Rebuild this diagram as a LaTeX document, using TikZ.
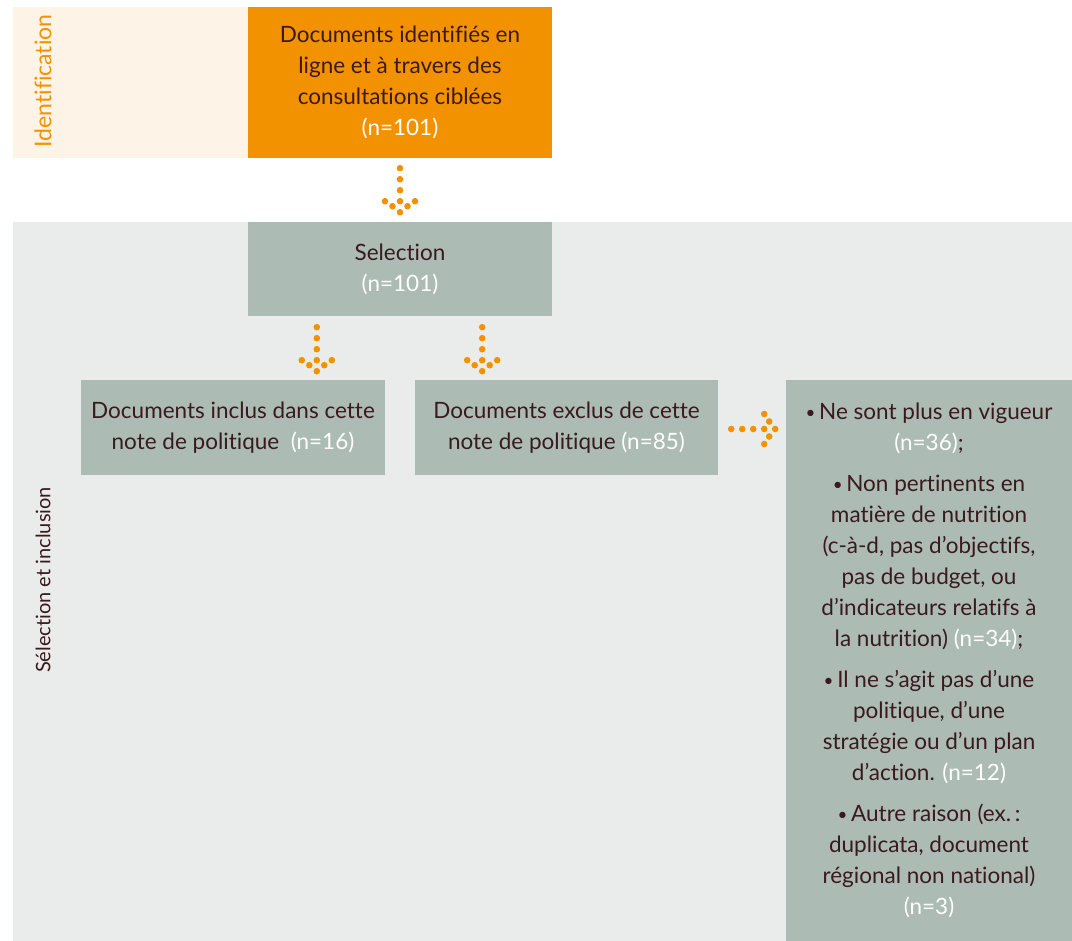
\documentclass[tikz,border=0pt]{standalone}
\usepackage{fontspec}
\setmainfont{Lato}[RawFeature={-liga;-dlig;-clig}]
\definecolor{orangeA}{HTML}{F39200}
\definecolor{creamA}{HTML}{FEF3E7}
\definecolor{bandA}{HTML}{EAECEB}
\definecolor{boxA}{HTML}{ACBCB4}
\definecolor{txtA}{HTML}{3A1A1E}
\tikzset{
  stepbox/.style={fill=boxA, inner sep=0pt, align=center, text=txtA, font=\fontsize{22.5}{31}\selectfont},
  pics/dotarrow/.style={code={
    \foreach \p in {(0pt,0pt),(0pt,-11pt),(0pt,-22pt),(0pt,-33pt),(-15pt,-33pt),(15pt,-33pt),(-7.5pt,-38pt),(7.5pt,-38pt),(0pt,-44pt)}
      \fill[orangeA] \p circle (3.3pt);
  }}
}
\newcommand{\nn}[1]{\textcolor{white}{#1}}
\newcommand{\bul}{\raisebox{1.5pt}{\fontsize{17}{17}\selectfont•}\,}
\begin{document}
\begin{tikzpicture}[x=1pt,y=-1pt]
\useasboundingbox (0,0) rectangle (1072,941);
% bands
\fill[creamA] (13,7) rectangle (248,158);
\fill[bandA] (13,222) rectangle (1072,941);
\node[rotate=90, text=orangeA, font=\fontsize{23}{26}\selectfont] (lblid) at (43,81) {Identification};
\node[rotate=90, text=txtA, font=\fontsize{20}{24}\selectfont] (lblsel) at (43,580) {Sélection et inclusion};
% boxes
\node[stepbox, fill=orangeA, minimum width=304, minimum height=151] (ident) at (400,82.5)
  {Documents identifiés en\\ligne et à travers des\\consultations ciblées\\\nn{(n=101)}};
\node[stepbox, minimum width=304, minimum height=94] (sel) at (400,269)
  {Selection\\\nn{(n=101)}};
\node[stepbox, minimum width=304, minimum height=95] (incl) at (233,427.5)
  {Documents inclus dans cette\\note de politique\ \ \nn{(n=16)}};
\node[stepbox, minimum width=303, minimum height=95] (excl) at (566.5,427.5)
  {Documents exclus de cette\\note de politique \nn{(n=85)}};
\node[stepbox, minimum width=286, minimum height=561] (reas) at (929,660.5)
  {\bul Ne sont plus en vigueur\\\nn{(n=36)};\\[10pt]
   \bul Non pertinents en\\matière de nutrition\\(c-à-d, pas d’objectifs,\\pas de budget, ou\\d’indicateurs relatifs à\\la nutrition) \nn{(n=34)};\\[10pt]
   \bul Il ne s’agit pas d’une\\politique, d’une\\stratégie ou d’un plan\\d’action. \nn{(n=12)}\\[10pt]
   \bul Autre raison (ex.\,:\\duplicata, document\\régional non national)\\\nn{(n=3)}};
% dotted arrows
\pic at ([yshift=-10pt]ident.south) {dotarrow};
\pic at ([xshift=69pt,yshift=-11pt]sel.south west) {dotarrow};
\pic at ([xshift=-70pt,yshift=-11pt]sel.south east) {dotarrow};
\pic[rotate=90] at ([xshift=13pt,yshift=-1.5pt]excl.east) {dotarrow};
\end{tikzpicture}
\end{document}
